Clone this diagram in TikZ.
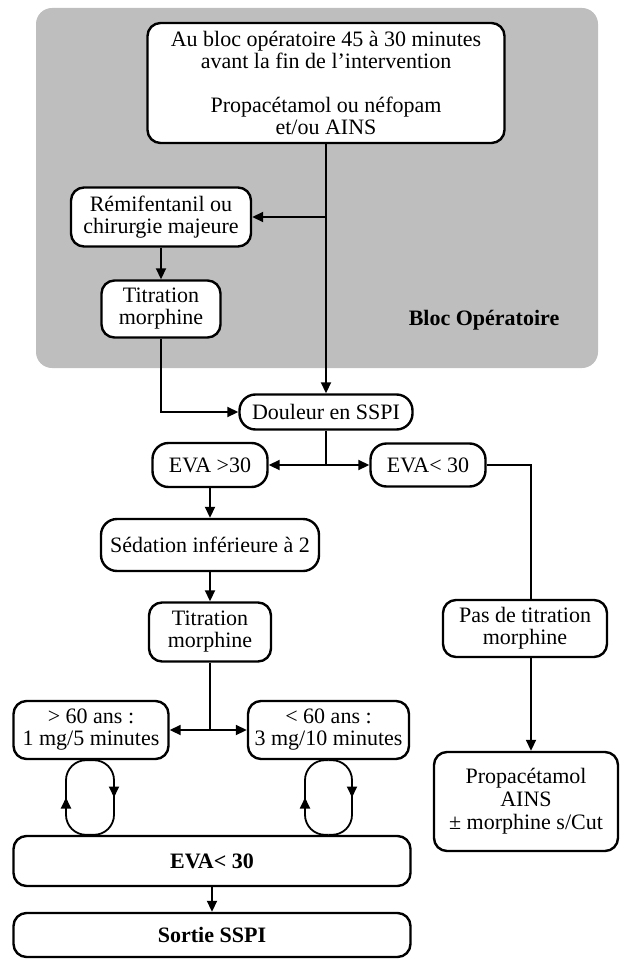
\documentclass[tikz,border=0pt]{standalone}
\usepackage{fontspec}
\setmainfont{Liberation Serif}
\usetikzlibrary{arrows.meta,decorations.markings}
\definecolor{blocgray}{RGB}{190,190,190}
\begin{document}
\begin{tikzpicture}[x=1pt,y=-1pt,
  box/.style={draw,line width=2.4pt,fill=white,rounded corners=13pt,inner sep=0pt,align=center,font=\fontsize{22}{22}\selectfont},
  pill/.style={box,rounded corners=16pt},
  bbox/.style={box,font=\bfseries\fontsize{22}{22}\selectfont},
  conn/.style={line width=1.8pt},
  arr/.style={conn,-{Triangle[length=11pt,width=10pt]}},
  loopmid/.style={conn,rounded corners=20pt,postaction={decorate},
    decoration={markings,mark=at position 0.5 with {\arrow{Triangle[length=11pt,width=10pt]}}}}
]
\useasboundingbox (0,0) rectangle (620,960);
\fill[blocgray,rounded corners=16pt] (36,8) rectangle (598,368);

\node[box,minimum width=357pt,minimum height=120pt] (top) at (326,83)
  {Au bloc opératoire 45 à 30 minutes\\avant la fin de l’intervention\\[22pt]Propacétamol ou néfopam\\et/ou AINS};
\node[box,minimum width=180pt,minimum height=59pt] (remi) at (161,217) {Rémifentanil ou\\chirurgie majeure};
\node[box,minimum width=119pt,minimum height=57pt] (tit1) at (161,309) {Titration\\morphine};
\node[font=\bfseries\fontsize{22}{22}\selectfont] (bloc) at (484,320) {Bloc Opératoire};

\node[pill,minimum width=173pt,minimum height=35pt] (doul) at (326,412) {Douleur en SSPI};
\node[pill,minimum width=115pt,minimum height=44pt] (eva1) at (210,465) {EVA >30};
\node[pill,minimum width=115pt,minimum height=43pt] (eva2) at (428,465) {EVA< 30};
\node[pill,minimum width=218pt,minimum height=52pt] (sed) at (210,545) {Sédation inférieure à 2};
\node[box,minimum width=122pt,minimum height=59pt] (tit2) at (210,632) {Titration\\morphine};
\node[box,minimum width=164pt,minimum height=57pt] (pas) at (525,628.5) {Pas de titration\\morphine};
\node[box,minimum width=155pt,minimum height=58pt] (old) at (91,730) {> 60 ans :\\1 mg/5 minutes};
\node[box,minimum width=161pt,minimum height=58pt] (young) at (328.5,730) {< 60 ans :\\3 mg/10 minutes};
\node[bbox,minimum width=397pt,minimum height=50pt] (evab) at (212,861) {EVA< 30};
\node[bbox,minimum width=397pt,minimum height=44pt] (sortie) at (212,935) {Sortie SSPI};
\node[box,minimum width=184pt,minimum height=99pt,font=\fontsize{22}{23}\selectfont] (prop) at (526,801.5)
  {Propacétamol\\AINS\\± morphine s/Cut};

% connectors
\coordinate (j1) at (326,217);
\coordinate (j2) at (326,465);
\coordinate (j3) at (210,730);
\coordinate (rx) at (531,465);
\draw[arr] (top.south) -- (doul.north);
\draw[arr] (j1) -- (remi.east);
\draw[arr] (remi.south) -- (tit1.north);
\draw[arr] (tit1.south) |- (doul.west);
\draw[conn] (doul.south) -- (j2);
\draw[arr] (j2) -- (eva1.east);
\draw[arr] (j2) -- (eva2.west);
\draw[conn] (eva2.east) -- (rx) -- (pas.north -| rx);
\draw[arr] (pas.south -| rx) -- (prop.north -| rx);
\draw[arr] (eva1.south) -- (sed.north);
\draw[arr] (sed.south) -- (tit2.north);
\draw[conn] (tit2.south) -- (j3);
\draw[arr] (j3) -- (old.east);
\draw[arr] (j3) -- (young.west);
\draw[arr] (evab.south) -- (sortie.north);

% loops
\coordinate (oL) at (66,0);  \coordinate (oM) at (90,0);  \coordinate (oR) at (114,0);
\coordinate (yL) at (305,0); \coordinate (yM) at (328.5,0); \coordinate (yR) at (352,0);
\draw[loopmid] (evab.north -| oM) -- (evab.north -| oL) -- (old.south -| oL) -- (old.south -| oM);
\draw[loopmid] (old.south -| oM) -- (old.south -| oR) -- (evab.north -| oR) -- (evab.north -| oM);
\draw[loopmid] (evab.north -| yM) -- (evab.north -| yL) -- (young.south -| yL) -- (young.south -| yM);
\draw[loopmid] (young.south -| yM) -- (young.south -| yR) -- (evab.north -| yR) -- (evab.north -| yM);
\end{tikzpicture}
\end{document}
